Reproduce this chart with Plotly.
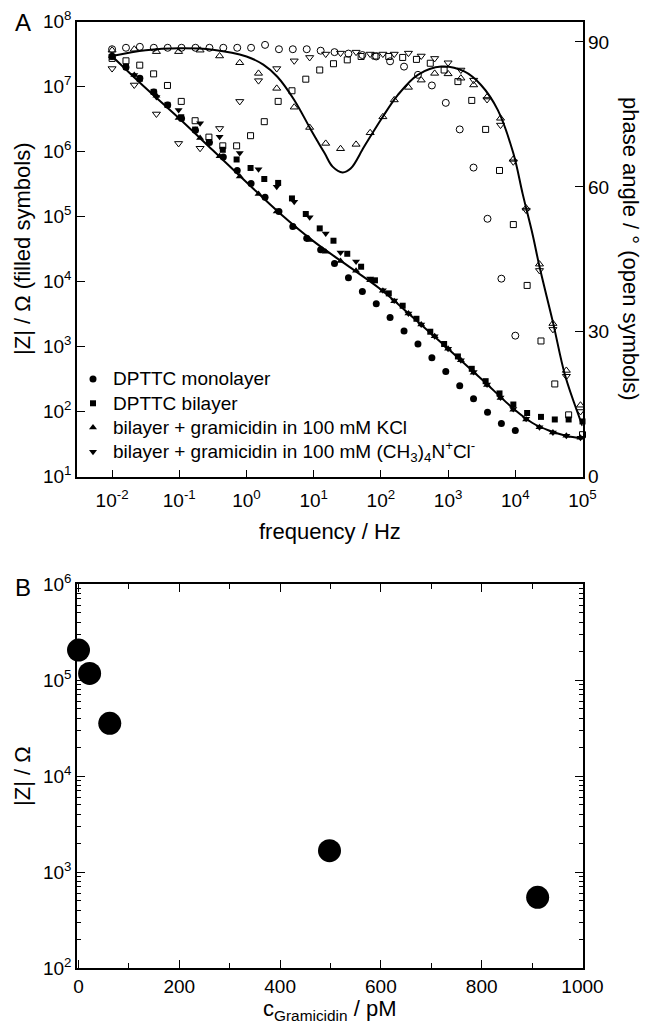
import plotly.graph_objects as go

# ---------------- Panel A data ----------------
# DPTTC monolayer
freq_mono = [0.01, 0.0161, 0.0259, 0.0418, 0.0672, 0.108, 0.174, 0.281, 0.452, 0.728,
             1.17, 1.89, 3.04, 4.89, 7.88, 12.7, 20.4, 32.9, 53.0, 85.3,
             137, 221, 356, 574, 924, 1490, 2390, 3860, 6210, 10000]
z_mono = [2.95e7, 2.00e7, 1.35e7, 8.32e6, 5.25e6, 3.24e6, 2.14e6, 1.38e6, 8.32e5, 5.13e5,
          3.24e5, 2.00e5, 1.20e5, 7.08e4, 4.68e4, 3.09e4, 1.91e4, 1.15e4, 7080, 4570,
          2820, 1740, 1100, 676, 417, 251, 158, 97.7, 66.1, 51.3]
phase_mono = [88.5, 88.8, 89.0, 88.8, 88.8, 88.8, 88.8, 88.8, 88.8, 88.8,
              88.8, 89.4, 88.5, 88.5, 88.5, 88.2, 87.9, 87.6, 87.3, 87.0,
              86.0, 84.9, 83.2, 81.0, 77.4, 71.9, 64.0, 53.4, 41.0, 29.2]

# DPTTC bilayer
freq_bil = [0.01, 0.0161, 0.0258, 0.0415, 0.0667, 0.107, 0.172, 0.276, 0.444, 0.713,
            1.15, 1.84, 2.96, 4.75, 7.63, 12.3, 19.7, 31.6, 50.8, 81.6,
            131, 211, 338, 543, 873, 1400, 2250, 3620, 5820, 9350,
            15000, 24100, 38700, 62200, 100000]
z_bil = [2.88e7, 2.04e7, 1.32e7, 8.32e6, 5.25e6, 3.39e6, 2.19e6, 1.41e6, 1.07e6, 7.59e5,
         5.62e5, 3.80e5, 3.31e5, 1.91e5, 1.10e5, 6.61e4, 4.27e4, 2.69e4, 1.70e4, 1.05e4,
         6610, 4270, 2690, 1700, 1100, 708, 457, 295, 191, 129,
         95.5, 83.2, 75.9, 75.9, 70.8]
phase_bil = [86.6, 86.1, 85.2, 83.4, 81.0, 77.7, 73.7, 70.3, 68.5, 68.5,
             70.6, 73.5, 77.7, 79.9, 82.3, 84.2, 85.5, 86.3, 87.0, 87.1,
             87.0, 86.8, 86.4, 85.6, 84.2, 81.8, 77.9, 71.9, 63.4, 52.2,
             39.6, 28.1, 19.2, 12.8, 8.7]

# bilayer + gramicidin (both electrolytes measured at the same frequencies)
freq_gram = [0.01, 0.0214, 0.0457, 0.0977, 0.204, 0.398, 0.794, 1.51, 2.82, 5.13,
             8.71, 15.1, 25.1, 42.7, 69.2, 107, 158, 257, 398, 631,
             1000, 1550, 2400, 3800, 6030, 9330, 14500, 22900, 36300, 57500, 93300]
z_kcl = [2.95e7, 1.51e7, 7.24e6, 3.31e6, 1.62e6, 8.51e5, 4.17e5, 2.24e5, 1.20e5, 6.92e4,
         4.37e4, 2.88e4, 2.09e4, 1.48e4, 1.05e4, 7240, 5010, 3240, 2190, 1450,
         933, 617, 398, 257, 162, 107, 75.9, 57.5, 47.9, 42.7, 39.8]
phase_kcl = [88.3, 88.5, 88.0, 88.0, 88.3, 87.1, 85.7, 83.5, 80.4, 76.5,
             72.3, 69.0, 67.9, 68.8, 71.2, 74.5, 78.0, 80.6, 82.1, 83.5,
             83.4, 82.5, 81.1, 78.6, 74.2, 65.7, 55.6, 44.0, 31.7, 22.0, 14.8]
z_tma = [2.95e7, 1.51e7, 6.92e6, 4.37e6, 2.75e6, 1.70e6, 9.55e5, 5.37e5, 2.88e5, 1.70e5,
         9.77e4, 5.50e4, 2.82e4, 2.04e4, 1.12e4, 7410, 5130, 3240, 2190, 1450,
         933, 617, 407, 263, 166, 110, 77.6, 57.5, 47.9, 42.7, 39.8]
phase_tma = [84.5, 81.1, 75.1, 69.0, 68.0, 72.1, 77.7, 82.0, 84.5, 86.1,
             86.8, 87.5, 87.7, 87.9, 87.5, 87.5, 87.5, 87.7, 87.1, 86.6,
             85.7, 84.2, 82.1, 78.1, 72.8, 65.2, 55.2, 42.7, 30.5, 20.8, 13.5]

# fitted curves
fit_z_freq = [0.01, 0.0316, 0.1, 0.316, 1, 3.16, 10, 31.6, 100, 316, 1000, 3160,
              10000, 17800, 31600, 56200, 100000]
fit_z = [2.95e7, 9.55e6, 3.24e6, 1.05e6, 3.39e5, 1.12e5, 4.17e4, 1.78e4, 7590, 2690,
         933, 316, 105, 67.6, 51.3, 42.7, 38.9]
fit_ph_freq = [0.01, 0.0316, 0.1, 0.316, 1, 1.78, 2.88, 5.13, 9.12, 14.5, 19.1, 26.9,
               35.5, 56.2, 100, 178, 355, 794, 1740, 3090, 5500, 9330, 12900,
               18200, 22900, 36300, 55000, 91200, 100000]
fit_ph = [87.1, 88.3, 88.7, 88.4, 87.0, 85.3, 82.8, 78.0, 71.8, 67.0, 64.2, 63.0,
          63.8, 68.3, 73.9, 79.0, 83.2, 84.9, 83.9, 81.1, 75.9, 67.0, 58.5,
          50.0, 43.5, 32.0, 21.0, 12.0, 10.5]

# ---------------- Panel B data ----------------
c_gram = [0, 22, 62, 498, 911]
z_gram = [2.05e5, 1.17e5, 3.54e4, 1667, 545]

decades_a = [1e-2, 1e-1, 1, 1e1, 1e2, 1e3, 1e4, 1e5]
decades_a_text = ["10<sup>-2</sup>", "10<sup>-1</sup>", "10<sup>0</sup>", "10<sup>1</sup>",
                  "10<sup>2</sup>", "10<sup>3</sup>", "10<sup>4</sup>", "10<sup>5</sup>"]
z_ticks_a = [1e1, 1e2, 1e3, 1e4, 1e5, 1e6, 1e7, 1e8]
z_ticks_a_text = ["10<sup>%d</sup>" % e for e in range(1, 9)]
phase_ticks = [0, 30, 60, 90]
z_ticks_b = [1e2, 1e3, 1e4, 1e5, 1e6]
z_ticks_b_text = ["10<sup>%d</sup>" % e for e in range(2, 7)]
c_ticks_b = [0, 200, 400, 600, 800, 1000]

FONT = "Liberation Sans, Arial, sans-serif"
# the page body adds an 8 px offset; the figure is sized so that it fits the 650x1028 window
OFF = 8
W, H = 650 - OFF, 1028 - OFF


def px(x):
    return (x - OFF) / W


def py(y):
    return 1 - (y - OFF) / H


def big(t):
    return '<span style="font-size:19px">%s</span>' % t


fig = go.Figure()

# fit lines
fig.add_trace(go.Scatter(x=fit_z_freq, y=fit_z, mode="lines", line=dict(color="black", width=2, shape="spline"),
                         xaxis="x", yaxis="y", showlegend=False, hoverinfo="skip"))
fig.add_trace(go.Scatter(x=fit_ph_freq, y=fit_ph, mode="lines", line=dict(color="black", width=2, shape="spline"),
                         xaxis="x", yaxis="y2", showlegend=False, hoverinfo="skip"))

open_line = dict(color="black", width=1)
# open symbols: phase
for fx, fy, sym, s in [(freq_mono, phase_mono, "circle-open", 7),
                       (freq_bil, phase_bil, "square-open", 6),
                       (freq_gram, phase_kcl, "triangle-up-open", 7),
                       (freq_gram, phase_tma, "triangle-down-open", 7)]:
    fig.add_trace(go.Scatter(x=fx, y=fy, mode="markers", xaxis="x", yaxis="y2",
                             marker=dict(symbol=sym, size=s, color="black", line=open_line),
                             showlegend=False, cliponaxis=False))

# filled symbols: |Z|
for fx, fy, sym, s, name in [
        (freq_mono, z_mono, "circle", 7, "DPTTC monolayer"),
        (freq_bil, z_bil, "square", 6, "DPTTC bilayer"),
        (freq_gram, z_kcl, "triangle-up", 7, "bilayer + gramicidin in 100 mM KCl"),
        (freq_gram, z_tma, "triangle-down", 7,
         "bilayer + gramicidin in 100 mM (CH<sub>3</sub>)<sub>4</sub>N<sup>+</sup>Cl<sup>-</sup>")]:
    fig.add_trace(go.Scatter(x=fx, y=fy, mode="markers", xaxis="x", yaxis="y", name=big(name),
                             marker=dict(symbol=sym, size=s, color="black", line=dict(width=0)),
                             showlegend=True, cliponaxis=False))

# panel B
fig.add_trace(go.Scatter(x=c_gram, y=z_gram, mode="markers", xaxis="x3", yaxis="y3",
                         marker=dict(symbol="circle", size=23, color="black"),
                         showlegend=False, cliponaxis=False))

xdom = [px(77), px(582.5)]
ya_dom = [py(476.7), py(21.7)]
yb_dom = [py(968), py(584)]

axis_common = dict(showline=True, linecolor="black", linewidth=1.5, showgrid=False, zeroline=False,
                   ticks="inside", tickcolor="black", tickwidth=1.2, automargin=False,
                   tickfont=dict(family=FONT, size=19, color="black"))

fig.update_layout(
    width=W, height=H, margin=dict(l=0, r=0, t=0, b=0, autoexpand=False),
    paper_bgcolor="white", plot_bgcolor="white",
    font=dict(family=FONT, color="black"),
    xaxis=dict(type="log", range=[-2.522, 5.0], domain=xdom, anchor="y",
               tickmode="array", tickvals=decades_a, ticktext=decades_a_text, ticklen=7,
               ticklabelstandoff=6, mirror=True, **axis_common),
    yaxis=dict(type="log", range=[1, 8], domain=ya_dom, anchor="x",
               tickmode="array", tickvals=z_ticks_a, ticktext=z_ticks_a_text, ticklen=8,
               mirror=True, **axis_common),
    yaxis2=dict(range=[0, 94.2], overlaying="y", side="right", anchor="x",
                tickmode="array", tickvals=phase_ticks, ticklen=8, **axis_common),
    xaxis3=dict(range=[-3, 1000], domain=xdom, anchor="y3",
                tickmode="array", tickvals=c_ticks_b, ticklen=8, mirror="allticks",
                minor=dict(ticks="inside", ticklen=5, tickcolor="black", tickmode="array",
                           tickvals=[100, 300, 500, 700, 900]),
                **axis_common),
    yaxis3=dict(type="log", range=[2, 6], domain=yb_dom, anchor="x3",
                tickmode="array", tickvals=z_ticks_b, ticktext=z_ticks_b_text, ticklen=8,
                mirror="allticks",
                minor=dict(ticks="inside", ticklen=4, tickcolor="black", tickmode="array",
                           tickvals=[m * 10 ** e for e in range(2, 6) for m in range(2, 10)]),
                **axis_common),
    legend=dict(x=(65 - OFF + 8) / W, y=py(362), xanchor="left", yanchor="top",
                bgcolor="rgba(0,0,0,0)", font=dict(family=FONT, size=16.3, color="black"),
                itemwidth=30, tracegroupgap=0),
    showlegend=True,
)

ann = [
    dict(text="A", x=px(23), y=py(23), size=24),
    dict(text="B", x=px(23), y=py(587), size=24),
    dict(text="|Z| / Ω (filled symbols)", x=px(22), y=py(249), textangle=-90, size=22),
    dict(text="phase angle / ° (open symbols)", x=px(631), y=py(249), textangle=90, size=22),
    dict(text="frequency / Hz", x=px(330), y=py(531), size=22),
    dict(text="|Z| / Ω", x=px(22), y=py(776), textangle=-90, size=22),
    dict(text="c<sub>Gramicidin</sub> / pM", x=px(330), y=py(1010), size=22),
]
for a in ann:
    size = a.pop("size")
    fig.add_annotation(xref="paper", yref="paper", showarrow=False, xanchor="center", yanchor="middle",
                       font=dict(family=FONT, color="black", size=size), **a)

fig.write_html("out.html")
